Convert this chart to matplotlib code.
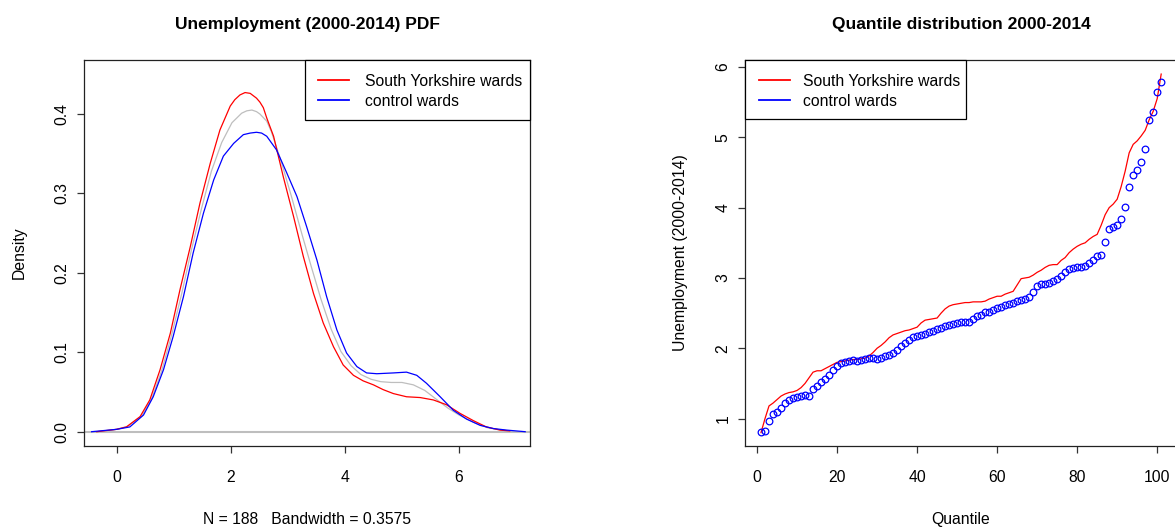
import matplotlib
matplotlib.use("Agg")
import matplotlib.pyplot as plt
from matplotlib.lines import Line2D
from matplotlib.patches import Rectangle

plt.rcParams['font.family'] = ['Liberation Sans', 'DejaVu Sans']

# ---------------- data: density curves ----------------
sy_x = [-0.35, 0.00, 0.17, 0.41, 0.58, 0.76, 0.94, 1.11, 1.29, 1.46, 1.64, 1.81, 1.99,
        2.07, 2.16, 2.25, 2.34, 2.45, 2.51, 2.57, 2.63, 2.75, 2.92, 3.10, 3.27, 3.45, 3.62,
        3.80, 3.97, 4.15, 4.32, 4.50, 4.67, 4.85, 5.08, 5.32, 5.55, 5.78, 6.02, 6.25, 6.48,
        6.72, 6.89]
sy_y = [0.000, 0.003, 0.006, 0.019, 0.040, 0.078, 0.124, 0.179, 0.233, 0.288, 0.338, 0.380, 0.410,
        0.418, 0.424, 0.427, 0.426, 0.420, 0.415, 0.408, 0.395, 0.372, 0.321, 0.271, 0.221, 0.174, 0.137,
        0.107, 0.084, 0.071, 0.064, 0.059, 0.053, 0.048, 0.044, 0.043, 0.040, 0.034, 0.023, 0.014, 0.006,
        0.002, 0.001]

ctrl_x = [-0.44, 0.00, 0.23, 0.47, 0.64, 0.82, 0.99, 1.17, 1.34, 1.52, 1.70, 1.87, 2.05,
          2.22, 2.34, 2.45, 2.54, 2.63, 2.80, 2.98, 3.16, 3.33, 3.51, 3.68, 3.86, 4.03, 4.21,
          4.38, 4.56, 4.85, 5.08, 5.26, 5.43, 5.67, 5.90, 6.13, 6.37, 6.60, 6.84, 7.16]
ctrl_y = [0.000, 0.003, 0.006, 0.021, 0.044, 0.078, 0.120, 0.170, 0.225, 0.275, 0.317, 0.347, 0.363,
          0.374, 0.376, 0.377, 0.376, 0.372, 0.355, 0.326, 0.296, 0.258, 0.216, 0.170, 0.128, 0.099, 0.082,
          0.074, 0.073, 0.074, 0.075, 0.071, 0.061, 0.044, 0.027, 0.016, 0.008, 0.004, 0.002, 0.000]

all_x = [-0.28, 0.00, 0.20, 0.44, 0.61, 0.79, 0.96, 1.14, 1.31, 1.49, 1.66, 1.84, 2.02,
         2.19, 2.28, 2.37, 2.45, 2.51, 2.63, 2.71, 2.88, 3.06, 3.23, 3.41, 3.58, 3.76, 3.93,
         4.11, 4.28, 4.46, 4.63, 4.81, 5.00, 5.20, 5.40, 5.60, 5.80, 6.00, 6.25, 6.50, 6.75, 6.96]
all_y = [0.000, 0.003, 0.007, 0.020, 0.041, 0.077, 0.121, 0.174, 0.229, 0.282, 0.328, 0.364, 0.389,
         0.401, 0.404, 0.405, 0.403, 0.400, 0.391, 0.378, 0.341, 0.297, 0.253, 0.208, 0.167, 0.129, 0.101,
         0.083, 0.072, 0.066, 0.063, 0.062, 0.062, 0.059, 0.052, 0.041, 0.030, 0.021, 0.012, 0.005, 0.002,
         0.000]

# ---------------- data: quantiles (index 1..101) ----------------
quantile_idx = list(range(1, 102))
sy_quant = [0.80, 1.00, 1.18, 1.22, 1.27, 1.32, 1.35, 1.37, 1.38, 1.40,
            1.44, 1.50, 1.58, 1.66, 1.68, 1.68, 1.71, 1.74, 1.77, 1.80,
            1.81, 1.82, 1.83, 1.84, 1.84, 1.85, 1.86, 1.89, 1.94, 2.00,
            2.04, 2.09, 2.15, 2.19, 2.21, 2.23, 2.25, 2.26, 2.28, 2.30,
            2.36, 2.40, 2.41, 2.42, 2.43, 2.50, 2.56, 2.60, 2.62, 2.63,
            2.64, 2.65, 2.65, 2.66, 2.66, 2.66, 2.67, 2.70, 2.72, 2.74,
            2.74, 2.77, 2.79, 2.81, 2.90, 2.99, 3.00, 3.01, 3.04, 3.08,
            3.11, 3.15, 3.18, 3.19, 3.19, 3.25, 3.29, 3.36, 3.41, 3.45,
            3.48, 3.50, 3.55, 3.59, 3.62, 3.75, 3.90, 4.00, 4.05, 4.12,
            4.30, 4.52, 4.78, 4.90, 4.95, 5.02, 5.10, 5.25, 5.37, 5.55,
            5.90]
ctrl_quant = [0.815, 0.82, 0.97, 1.06, 1.10, 1.15, 1.22, 1.27, 1.29, 1.30,
              1.32, 1.33, 1.32, 1.42, 1.47, 1.52, 1.57, 1.62, 1.69, 1.75,
              1.79, 1.81, 1.82, 1.83, 1.82, 1.84, 1.85, 1.86, 1.86, 1.85,
              1.86, 1.89, 1.91, 1.93, 1.98, 2.03, 2.07, 2.12, 2.16, 2.18,
              2.19, 2.21, 2.23, 2.25, 2.27, 2.29, 2.31, 2.33, 2.35, 2.36,
              2.37, 2.37, 2.38, 2.41, 2.46, 2.47, 2.51, 2.52, 2.54, 2.57,
              2.59, 2.61, 2.63, 2.65, 2.67, 2.68, 2.70, 2.73, 2.80, 2.88,
              2.91, 2.92, 2.93, 2.95, 2.99, 3.03, 3.09, 3.13, 3.14, 3.15,
              3.15, 3.17, 3.21, 3.25, 3.31, 3.33, 3.51, 3.69, 3.73, 3.76,
              3.84, 4.01, 4.30, 4.46, 4.53, 4.65, 4.84, 5.25, 5.36, 5.65,
              5.78]

left_xticks = [0, 2, 4, 6]
left_yticks = [0.0, 0.1, 0.2, 0.3, 0.4]
left_yticklabels = ["0.0", "0.1", "0.2", "0.3", "0.4"]
right_xticks = [0, 20, 40, 60, 80, 100]
right_yticks = [1, 2, 3, 4, 5, 6]
legend_labels = ["South Yorkshire wards", "control wards"]

W, H = 1175, 527
fig = plt.figure(figsize=(W / 100, H / 100), dpi=100)

def fx(px):
    return px / W

def fy(py):
    return 1 - py / H

RED = '#FF0000'
BLUE = '#0000FF'
GREY = '#BEBEBE'
LW = 0.9
FS = 11.3

def style_axes(ax):
    for s in ax.spines.values():
        s.set_linewidth(0.9)
        s.set_color('#222222')
    ax.tick_params(direction='out', length=5, width=0.9, color='#333333',
                   labelsize=FS)
    ax.tick_params(axis='x', pad=12.5)
    ax.tick_params(axis='y', pad=5.5)

def draw_legend(x0, x1, y0, y1, lx0, lx1, tx, rows):
    """Legend box drawn in figure pixel positions (layout only)."""
    fig.add_artist(Rectangle((fx(x0), fy(y1)), fx(x1) - fx(x0), fy(y0) - fy(y1),
                             transform=fig.transFigure, facecolor='white',
                             edgecolor='black', linewidth=0.9, zorder=5))
    for (ry, color, label) in zip(rows, [RED, BLUE], legend_labels):
        fig.add_artist(Line2D([fx(lx0), fx(lx1)], [fy(ry), fy(ry)],
                              transform=fig.transFigure, color=color, lw=1.3, zorder=6))
        fig.text(fx(tx), fy(ry + 2.0), label, fontsize=FS, va='center', ha='left', zorder=6)

# ---------------- left panel ----------------
ax1 = fig.add_axes([fx(84.3), fy(446), fx(530.3) - fx(84.3), fy(60) - fy(446)])
ax1.axhline(0, color=GREY, lw=1.5, zorder=1)
ax1.plot(all_x, all_y, color=GREY, lw=LW, zorder=2)
ax1.plot(sy_x, sy_y, color=RED, lw=LW, zorder=3)
ax1.plot(ctrl_x, ctrl_y, color=BLUE, lw=LW, zorder=4)
ax1.set_xlim(-0.568, 7.25)
ax1.set_ylim(-0.018, 0.468)
ax1.set_xticks(left_xticks)
ax1.set_yticks(left_yticks)
ax1.set_yticklabels(left_yticklabels, rotation=90, va='center')
style_axes(ax1)
ax1.set_title("Unemployment (2000-2014) PDF", fontsize=12.5, fontweight='bold', pad=22)
ax1.set_xlabel("N = 188   Bandwidth = 0.3575", fontsize=FS, labelpad=19)
ax1.set_ylabel("Density", fontsize=FS, labelpad=20)
draw_legend(305, 530.3, 60, 120, 318, 349, 365, [80, 100])

# ---------------- right panel ----------------
ax2 = fig.add_axes([fx(745), fy(446), fx(1177.2) - fx(745), fy(60) - fy(446)])
ax2.plot(quantile_idx, sy_quant, color=RED, lw=LW, zorder=2)
ax2.plot(quantile_idx, ctrl_quant, linestyle='none', marker='o', markersize=4.8,
         markerfacecolor='none', markeredgecolor=BLUE, markeredgewidth=0.9, zorder=3)
ax2.set_xlim(-3, 105)
ax2.set_ylim(0.61, 6.10)
ax2.set_xticks(right_xticks)
ax2.set_yticks(right_yticks)
ax2.set_yticklabels([str(v) for v in right_yticks], rotation=90, va='center')
style_axes(ax2)
ax2.set_title("Quantile distribution 2000-2014", fontsize=12.5, fontweight='bold', pad=22)
ax2.set_xlabel("Quantile", fontsize=FS, labelpad=19)
ax2.set_ylabel("Unemployment (2000-2014)", fontsize=FS, labelpad=20)
draw_legend(745, 966, 60, 119, 759, 790, 803, [79.5, 99.5])

fig.savefig("out.png", dpi=100)
